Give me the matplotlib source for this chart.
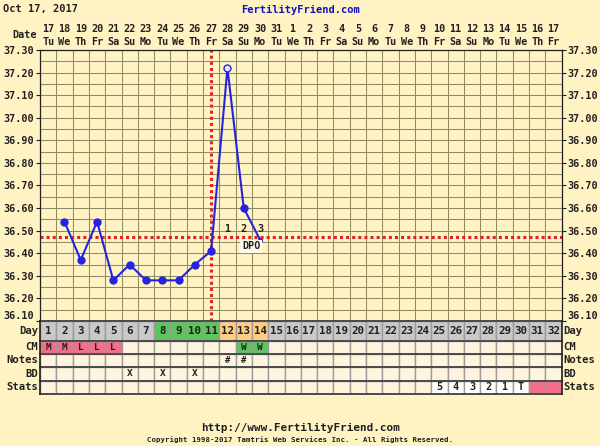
import numpy as np
import matplotlib
matplotlib.use("Agg")
import matplotlib.pyplot as plt
from matplotlib.patches import Rectangle
from matplotlib.transforms import blended_transform_factory

# ── Chart data ───────────────────────────────────────────────────────────────
dates    = list(range(17, 32)) + list(range(1, 18))
weekdays = ["Tu", "We", "Th", "Fr", "Sa", "Su", "Mo"] * 5
weekdays = weekdays[:32]
cycle_days = list(range(1, 33))

temp_days  = [2, 3, 4, 5, 6, 7, 8, 9, 10, 11, 12, 13, 14]
temps      = [36.54, 36.37, 36.54, 36.28, 36.35, 36.28, 36.28, 36.28, 36.35, 36.41, 37.22, 36.60, 36.46]
temp_marks = ["f", "f", "f", "f", "f", "f", "f", "f", "f", "f", "open", "f", "small"]

coverline     = 36.47
ovulation_day = 11
dpo_days   = [12, 13, 14]
dpo_labels = ["1", "2", "3"]

green_days  = [8, 9, 10, 11]
orange_days = [12, 13, 14]

cm_days  = [1, 2, 3, 4, 5, 13, 14]
cm_codes = ["M", "M", "L", "L", "L", "W", "W"]
note_days  = [12, 13]
note_marks = ["#", "#"]
bd_days = [6, 8, 10]
stat_days   = [25, 26, 27, 28, 29, 30]
stat_labels = ["5", "4", "3", "2", "1", "T"]
stat_pink   = [31, 32]

# ── Styling ──────────────────────────────────────────────────────────────────
W, H = 600, 446
BG      = "#FFF3C4"
CELL    = "#FFF5DE"
GRID    = "#8E8C64"
BLUE    = "#2424E0"
RED     = "#E02424"
GRAY    = "#C9C9C9"
GREEN   = "#5EC45E"
ORANGE  = "#FFCC84"
PINK    = "#F26F8C"
DARK    = "#202020"
FONT    = dict(family="DejaVu Sans Mono", weight="bold")

def fx(px):
    return px / W

def fy(py):
    return 1 - py / H

fig = plt.figure(figsize=(6, 4.46), dpi=100)
fig.patch.set_facecolor(BG)

x0, x1 = 40, 561.6
ax = fig.add_axes([fx(x0), fy(321), fx(x1 - x0), (321 - 50) / H])
ax.set_facecolor(BG)
ax.set_xlim(0.5, 32.5)
ax.set_ylim(36.1, 37.3)

yt = np.round(np.arange(36.1, 37.301, 0.1), 2)
ax.set_yticks(yt)
ax.set_yticklabels([f"{v:.2f}" for v in yt], fontsize=7.3, color=DARK, **FONT)
ax.set_yticks(np.round(np.arange(36.15, 37.3, 0.1), 2), minor=True)
ax.set_xticks(np.arange(0.5, 33, 1))
ax.set_xticklabels([])
ax.tick_params(axis="x", length=0)
ax.tick_params(axis="y", which="major", length=3, width=0.8, color=DARK,
               left=True, right=True, labelleft=True, labelright=True, pad=1)
ax.tick_params(axis="y", which="minor", length=0)
ax.grid(True, which="both", color=GRID, linewidth=0.75)
ax.set_axisbelow(True)
for s in ax.spines.values():
    s.set_color(DARK)
    s.set_linewidth(0.9)
# lowest tick label sits just above the bottom line
for t in ax.yaxis.get_majorticklabels()[:1]:
    t.set_va("bottom")
for t in ax.yaxis.get_ticklabels(which="major"):
    pass
ax.yaxis.get_major_ticks()[0].label2.set_va("bottom")

# coverline / ovulation line
ax.axhline(coverline, color=RED, linewidth=2.2, dashes=(1, 1), zorder=2)
ax.axvline(ovulation_day, color=RED, linewidth=2.2, dashes=(1, 1), zorder=2)

# temperatures
ax.plot(temp_days, temps, color=BLUE, linewidth=1.5, zorder=3)
fd = [d for d, m in zip(temp_days, temp_marks) if m == "f"]
ft = [t for t, m in zip(temps, temp_marks) if m == "f"]
ax.plot(fd, ft, "o", color=BLUE, markersize=5, zorder=4)
od = [d for d, m in zip(temp_days, temp_marks) if m == "open"]
ot = [t for t, m in zip(temps, temp_marks) if m == "open"]
ax.plot(od, ot, "o", mfc="#E8E4F0", mec=BLUE, mew=1, markersize=5, zorder=4)
sd = [d for d, m in zip(temp_days, temp_marks) if m == "small"]
st = [t for t, m in zip(temps, temp_marks) if m == "small"]
ax.plot(sd, st, "o", color=BLUE, markersize=2.5, zorder=4)

# DPO labels
for d, lab in zip(dpo_days, dpo_labels):
    ax.text(d, coverline + 0.015, lab, ha="center", va="bottom", fontsize=7.3,
            color=DARK, zorder=5, **FONT)
ax.text(13.45, coverline - 0.04, "DPO", ha="center", va="center", fontsize=7.3,
        color=DARK, zorder=5,
        bbox=dict(boxstyle="square,pad=0.15", facecolor="#FFFBEA", edgecolor="none"), **FONT)

# header: dates and weekdays
hdr = blended_transform_factory(ax.transData, fig.transFigure)
for d, dt, wd in zip(cycle_days, dates, weekdays):
    ax.text(d, fy(29), str(dt), transform=hdr, ha="center", va="center",
            fontsize=7.3, color=DARK, **FONT)
    ax.text(d, fy(42), wd, transform=hdr, ha="center", va="center",
            fontsize=7.3, color=DARK, **FONT)
fig.text(fx(37), fy(35), "Date", ha="right", va="center", fontsize=7.3, color=DARK, **FONT)

# ── Table rows below the chart ───────────────────────────────────────────────
row_edges  = [0, 19.5, 32.5, 46, 59.5, 73]
row_names  = ["Day", "CM", "Notes", "BD", "Stats"]
tax = fig.add_axes([fx(x0), fy(394), fx(x1 - x0), 73 / H])
tax.set_xlim(0.5, 32.5)
tax.set_ylim(73, 0)
tax.axis("off")

def cell(d, r, color):
    tax.add_patch(Rectangle((d - 0.5, row_edges[r]), 1, row_edges[r + 1] - row_edges[r],
                            facecolor=color, edgecolor="#9C9C9C", linewidth=1.0))

def mid(r):
    return (row_edges[r] + row_edges[r + 1]) / 2

for d in cycle_days:
    c = GREEN if d in green_days else ORANGE if d in orange_days else GRAY
    cell(d, 0, c)
    tax.text(d, mid(0) + 0.5, str(d), ha="center", va="center", fontsize=7.8, color=DARK, **FONT)
    c = CELL
    if d in cm_days:
        c = GREEN if cm_codes[cm_days.index(d)] == "W" else PINK
    cell(d, 1, c)
    cell(d, 2, CELL)
    cell(d, 3, CELL)
    c = "white" if d in stat_days else PINK if d in stat_pink else CELL
    cell(d, 4, c)

for d, code in zip(cm_days, cm_codes):
    tax.text(d, mid(1), code, ha="center", va="center", fontsize=6.8, color=DARK, **FONT)
for d, m in zip(note_days, note_marks):
    tax.text(d, mid(2), m, ha="center", va="center", fontsize=6.5, color=DARK, **FONT)
for d in bd_days:
    tax.text(d, mid(3), "X", ha="center", va="center", fontsize=6.8, color=DARK, **FONT)
for d, lab in zip(stat_days, stat_labels):
    tax.text(d, mid(4), lab, ha="center", va="center", fontsize=7.3, color=DARK, **FONT)

for e in row_edges:
    tax.plot([0.5, 32.5], [e, e], color="#4A4A4A", linewidth=1.4, clip_on=False)
tax.plot([0.5, 0.5], [0, 73], color=DARK, linewidth=1.2, clip_on=False)
tax.plot([32.5, 32.5], [0, 73], color=DARK, linewidth=1.2, clip_on=False)

lab_tr = blended_transform_factory(fig.transFigure, tax.transData)
for r, name in enumerate(row_names):
    fig.text(fx(38), mid(r), name, transform=lab_tr, ha="right", va="center",
             fontsize=7.6, color=DARK, **FONT)
    fig.text(fx(563), mid(r), name, transform=lab_tr, ha="left", va="center",
             fontsize=7.6, color=DARK, **FONT)

# ── Titles and footer ────────────────────────────────────────────────────────
fig.text(fx(3), fy(9), "Oct 17, 2017", ha="left", va="center", fontsize=7.5, color=DARK, **FONT)
fig.text(0.5, fy(10), "FertilityFriend.com", ha="center", va="center", fontsize=7.5,
         color="#1010C0", **FONT)
fig.text(0.5, fy(428), "http://www.FertilityFriend.com", ha="center", va="center",
         fontsize=7.9, color=DARK, **FONT)
fig.text(0.5, fy(440), "Copyright 1998-2017 Tamtris Web Services Inc. - All Rights Reserved.",
         ha="center", va="center", fontsize=5.3, color=DARK, **FONT)

fig.savefig("out.png", dpi=100, facecolor=BG)
